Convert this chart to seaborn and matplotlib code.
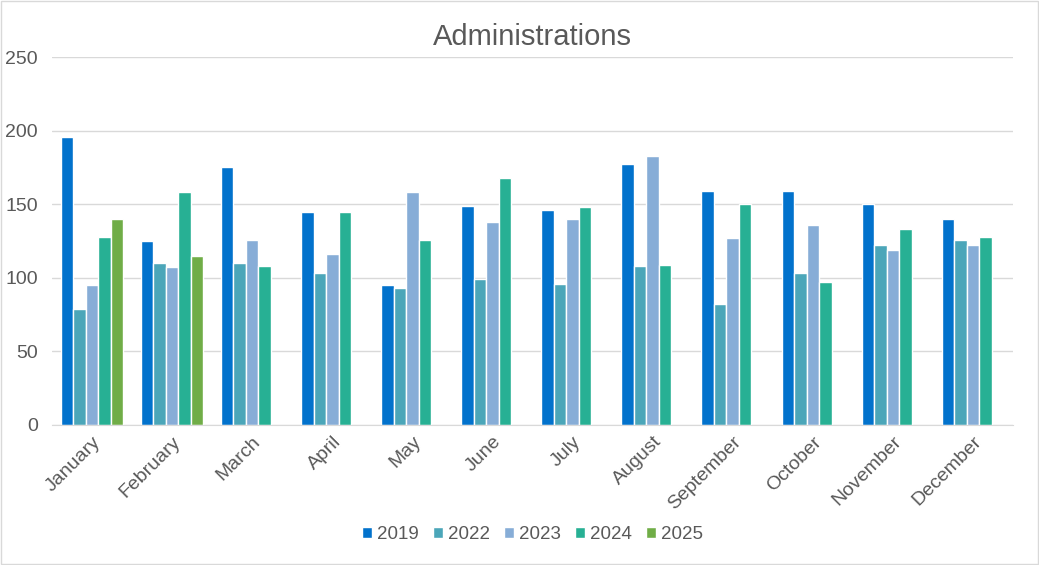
import matplotlib
matplotlib.use("Agg")
import matplotlib.pyplot as plt
import seaborn as sns
import pandas as pd
import numpy as np

months = ['January', 'February', 'March', 'April', 'May', 'June', 'July',
          'August', 'September', 'October', 'November', 'December']
years = ['2019', '2022', '2023', '2024', '2025']

v2019 = [196, 125, 175, 145, 95, 149, 146, 177, 159, 159, 150, 140]
v2022 = [79, 110, 110, 103, 93, 99, 96, 108, 82, 103, 122, 126]
v2023 = [95, 107, 126, 116, 158, 138, 140, 183, 127, 136, 119, 122]
v2024 = [128, 158, 108, 145, 126, 168, 148, 109, 150, 97, 133, 128]
v2025 = [140, 115] + [np.nan] * 10

colors = ['#0272CC', '#4BA6B9', '#87ADD7', '#27B094', '#70AD47']

# long format for seaborn
rows = []
for year, vals in zip(years, [v2019, v2022, v2023, v2024, v2025]):
    for m, v in zip(months, vals):
        rows.append({'month': m, 'year': year, 'value': v})
df = pd.DataFrame(rows)

sns.set_style('white')
plt.rcParams['font.family'] = ['Liberation Sans', 'DejaVu Sans']
text_col = '#595959'

fig = plt.figure(figsize=(10.39, 5.65), dpi=100)
ax = fig.add_axes([0.05, 0.248, 0.925, 0.651])

sns.barplot(data=df, x='month', y='value', hue='year', hue_order=years,
            order=months, palette=colors, width=0.78, saturation=1,
            errorbar=None, ax=ax, legend=True)

ax.set_ylim(0, 250)
ax.set_yticks([0, 50, 100, 150, 200, 250])
ax.yaxis.grid(True, color='#d9d9d9', linewidth=1)
ax.set_axisbelow(True)
for s in ['top', 'right', 'left']:
    ax.spines[s].set_visible(False)
ax.spines['bottom'].set_color('#d9d9d9')
ax.tick_params(axis='both', length=0, labelsize=14, colors=text_col)
ax.tick_params(axis='y', pad=10)
ax.tick_params(axis='x', pad=6)
plt.setp(ax.get_xticklabels(), rotation=45, ha='right', rotation_mode='anchor')
ax.set_xlabel('')
ax.set_ylabel('')
ax.set_title('Administrations', fontsize=21, color=text_col, pad=9)

ax.legend(loc='upper center', bbox_to_anchor=(0.5, -0.23), ncol=5, frameon=False,
          fontsize=13.5, labelcolor=text_col, handlelength=0.55, handleheight=0.55,
          handletextpad=0.25, columnspacing=0.75)

# light frame around the chart
fig.patches.append(plt.Rectangle((0.001, 0.001), 0.998, 0.998, transform=fig.transFigure,
                                 fill=False, edgecolor='#d9d9d9', linewidth=1))

fig.savefig('out.png', dpi=100)
